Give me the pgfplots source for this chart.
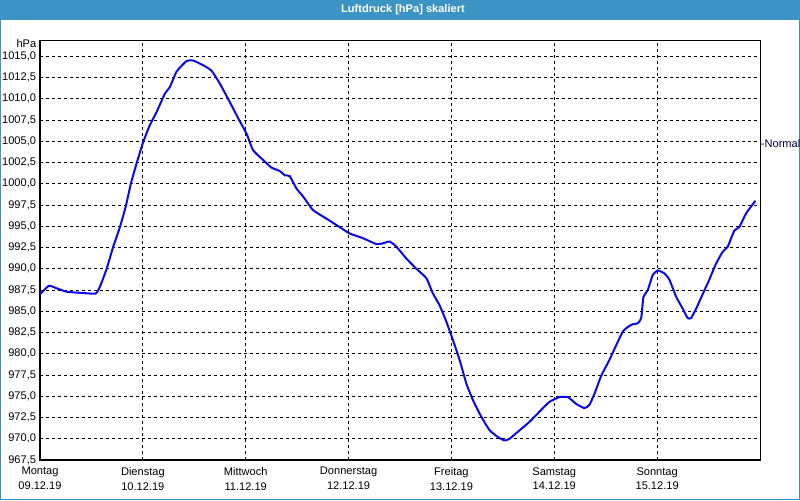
\documentclass[border=0pt]{standalone}
\usepackage{fontspec}
\setmainfont{Liberation Sans}
\usepackage{pgfplots}
\pgfplotsset{compat=1.18}
\definecolor{barblue}{HTML}{3C94C4}
\definecolor{curveblue}{HTML}{0A0AE6}

\begin{document}
\begin{tikzpicture}[x=0.75pt,y=0.75pt]
\useasboundingbox (0,0) rectangle (800,500);
\fill[white] (0,0) rectangle (800,500);
\fill[barblue] (0,480) rectangle (800,500);
\draw[barblue, line width=0.75pt] (0.5,0.5) rectangle (799.5,499.5);
\node[white, font=\fontsize{8.3}{10}\selectfont\bfseries] at (403,490) {Luftdruck [hPa] skaliert};
\begin{axis}[
    at={(30pt,30pt)}, anchor=south west,
    scale only axis,
    width=540pt, height=314.25pt,
    xmin=0, xmax=7,
    ymin=967.5, ymax=1016.8,
    axis line style={black, line width=0.75pt},
    xtick={0,1,2,3,4,5,6},
    xticklabels={Montag\\09.12.19, Dienstag\\10.12.19, Mittwoch\\11.12.19,
                 Donnerstag\\12.12.19, Freitag\\13.12.19, Samstag\\14.12.19,
                 Sonntag\\15.12.19},
    xticklabel style={align=center, yshift=-2pt},
    ytick={967.5,970,972.5,975,977.5,980,982.5,985,987.5,990,992.5,995,
           997.5,1000,1002.5,1005,1007.5,1010,1012.5,1015},
    yticklabel style={inner sep=1.2pt, xshift=-1.6pt,
                      /pgf/number format/.cd, fixed, fixed zerofill, precision=1,
                      use comma, 1000 sep={}},
    /pgf/number format/assume math mode=true,
    tick label style={font=\fontsize{8.3}{11}\selectfont},
    major tick length=0pt,
    grid=major,
    major grid style={black, line width=0.75pt, dash pattern=on 2.25pt off 2.25pt},
    clip=false,
]
\addplot[curveblue, line width=1.5pt, smooth, tension=0.3] coordinates {
(0,987.0) (0.087,988.0) (0.162,987.7) (0.259,987.3) (0.356,987.2)
(0.469,987.1) (0.544,987.1) (0.583,987.9) (0.648,990.0) (0.712,992.6)
(0.777,994.9) (0.835,997.4) (0.881,999.9) (0.939,1002.4) (1.003,1004.9)
(1.068,1006.9) (1.134,1008.45) (1.214,1010.6) (1.263,1011.4) (1.328,1013.2)
(1.425,1014.45) (1.489,1014.5) (1.586,1013.95) (1.668,1013.3) (1.748,1011.8)
(1.846,1009.6) (1.936,1007.5) (2.008,1005.9) (2.072,1003.95) (2.169,1002.8)
(2.251,1001.9) (2.331,1001.5) (2.380,1001.0) (2.428,1000.9) (2.493,999.45)
(2.558,998.5) (2.655,996.9) (2.785,995.9) (2.914,994.9) (3.011,994.15)
(3.140,993.6) (3.271,992.9) (3.335,993.0) (3.400,993.2) (3.465,992.6)
(3.562,991.2) (3.659,990.0) (3.756,988.9) (3.820,987.1) (3.885,985.7)
(3.950,983.8) (4.015,981.6) (4.080,979.26) (4.145,976.5) (4.209,974.55)
(4.290,972.6) (4.371,971.0) (4.452,970.2) (4.517,969.8) (4.565,970.0)
(4.663,971.0) (4.760,972.0) (4.857,973.2) (4.954,974.35) (5.051,974.9)
(5.132,974.9) (5.213,974.1) (5.294,973.6) (5.342,974.0) (5.391,975.3)
(5.456,977.4) (5.537,979.3) (5.666,982.6) (5.748,983.4) (5.812,983.6)
(5.845,984.2) (5.867,986.7) (5.909,987.5) (5.957,989.25) (6.006,989.8)
(6.071,989.45) (6.120,988.7) (6.185,986.7) (6.249,985.3) (6.297,984.2)
(6.330,984.2) (6.379,985.3) (6.476,987.9) (6.492,988.3) (6.573,990.6)
(6.637,992.0) (6.686,992.6) (6.751,994.5) (6.799,994.9) (6.864,996.5)
(6.955,998.0)
};
\node[anchor=base east, font=\fontsize{8.3}{10}\selectfont, inner sep=0pt, xshift=-2.6pt, yshift=-4.9pt]
    at (rel axis cs:0,1) {hPa};
\node[anchor=west, font=\fontsize{8.3}{10}\selectfont, text=black!75!blue, inner sep=0pt, xshift=0.5pt]
    at (axis cs:7,1004.7) {-Normal};
\end{axis}
\end{tikzpicture}
\end{document}
